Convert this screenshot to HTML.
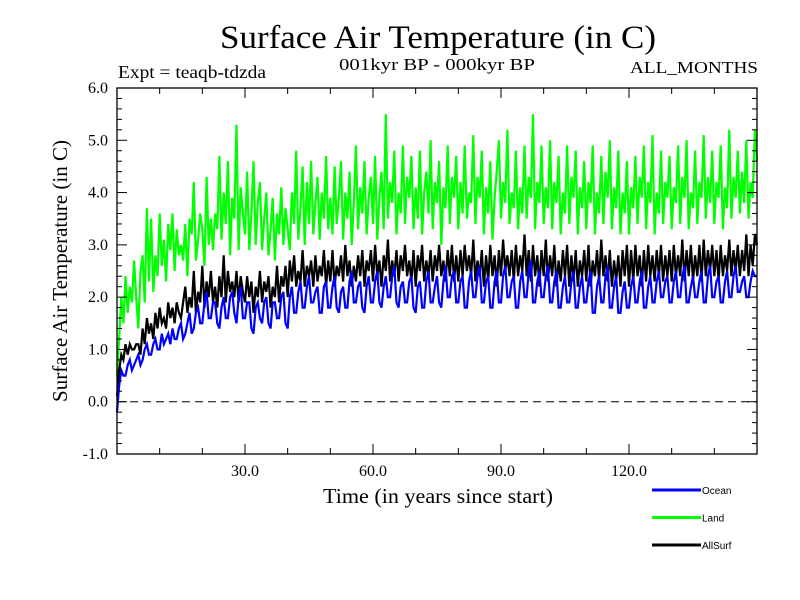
<!DOCTYPE html>
<html><head><meta charset="utf-8"><style>
body{margin:0;background:#fff}
svg{display:block;font-family:"Liberation Serif",serif}
</style></head><body>
<svg id="chart" width="800" height="600" viewBox="0 0 800 600">
<text x="438" y="48" font-size="33" text-anchor="middle" textLength="436" lengthAdjust="spacingAndGlyphs">Surface Air Temperature (in C)</text>
<text x="118" y="78" font-size="18" textLength="148" lengthAdjust="spacingAndGlyphs">Expt = teaqb-tdzda</text>
<text x="437" y="70" font-size="17" text-anchor="middle" textLength="196" lengthAdjust="spacingAndGlyphs">001kyr BP - 000kyr BP</text>
<text x="758" y="73" font-size="17" text-anchor="end" textLength="128" lengthAdjust="spacingAndGlyphs">ALL_MONTHS</text>
<text transform="translate(67,271) rotate(-90)" font-size="21" text-anchor="middle" textLength="262" lengthAdjust="spacingAndGlyphs">Surface Air Temperature (in C)</text>
<text x="438" y="503" font-size="21" text-anchor="middle" textLength="230" lengthAdjust="spacingAndGlyphs">Time (in years since start)</text>
<g id="plot"></g>
</svg>
<script>
const startYear = 0;
const yearStep = 0.5;
const landValues = [0.5,1.2,2.0,1.5,2.4,1.7,2.2,1.9,2.7,2.0,1.4,2.5,2.8,1.9,3.7,2.3,3.5,2.1,2.8,2.4,
3.6,2.6,3.1,2.3,3.4,2.9,3.6,2.5,3.3,2.8,3.0,2.7,3.4,2.4,3.5,3.2,4.2,2.7,3.1,3.6,
3.3,2.6,4.3,3.0,3.5,2.9,3.6,3.3,4.7,3.1,4.0,3.4,4.6,2.8,3.9,3.5,5.3,2.9,4.1,3.6,
3.2,4.4,2.9,3.6,4.6,3.0,3.8,4.2,2.9,3.5,4.0,2.8,3.3,3.9,2.7,3.6,3.2,4.1,3.0,3.7,
3.3,2.9,4.0,3.4,4.8,3.1,3.7,4.5,3.0,4.2,3.4,4.6,3.2,3.8,4.3,3.1,4.0,3.5,4.7,3.3,
3.9,3.2,4.5,3.4,3.9,4.6,3.1,4.0,3.5,4.4,3.0,3.8,4.9,3.3,4.1,3.6,4.6,3.2,3.9,4.3,
3.4,4.7,3.1,3.9,4.4,3.3,5.5,3.5,4.2,3.8,4.8,3.2,4.0,3.6,4.9,3.4,4.3,3.9,4.7,3.3,
4.1,3.5,4.8,3.2,4.0,4.4,3.6,5.0,3.3,4.2,3.8,4.6,3.0,4.1,3.7,4.9,3.4,4.3,3.9,4.7,
3.3,4.2,3.6,4.9,3.5,4.0,3.8,5.1,3.4,4.3,3.9,4.8,3.2,4.1,3.6,4.6,3.1,3.9,4.4,5.0,
3.5,4.2,3.8,5.2,3.4,4.0,3.7,4.8,3.3,4.1,3.6,4.9,3.5,4.3,3.9,5.5,3.3,4.2,3.8,4.9,
3.4,4.1,3.7,5.0,3.3,4.2,3.8,4.7,3.2,4.0,3.6,4.9,3.4,4.3,3.9,4.8,3.2,4.1,3.7,4.6,
3.3,4.2,3.8,4.9,3.2,4.0,3.6,4.7,3.4,4.4,3.9,5.0,3.3,4.1,3.7,4.8,3.2,4.0,3.6,4.6,
3.2,4.1,3.7,4.7,3.4,4.3,3.9,4.9,3.3,4.2,3.8,5.1,3.2,4.0,3.6,4.8,3.4,4.2,3.9,4.7,
3.3,4.1,3.8,4.9,3.4,4.3,3.9,5.0,3.3,4.0,3.7,4.8,3.4,4.2,3.9,5.1,3.5,4.3,3.8,4.8,
3.4,4.2,3.9,4.9,3.3,4.1,3.7,5.2,3.5,4.3,3.9,4.8,3.6,4.4,3.8,5.0,3.5,4.2,3.9,5.2,4.6];
const allSurfValues = [0.1,0.6,0.9,0.8,1.1,0.9,1.1,1.0,1.0,1.1,1.1,0.9,1.4,1.1,1.6,1.3,1.5,1.2,1.7,1.4,
1.8,1.5,1.6,1.4,1.9,1.6,1.8,1.5,1.9,1.7,1.6,1.9,2.2,1.7,2.0,1.8,2.5,1.7,2.1,1.9,
2.6,1.8,2.3,2.0,2.5,1.9,2.2,1.8,2.4,2.0,2.8,1.9,2.5,2.1,2.3,2.0,2.5,1.9,2.4,2.1,
1.9,2.4,2.0,2.3,1.7,2.2,2.0,2.5,1.9,2.3,2.1,2.4,1.8,2.2,2.0,2.6,1.9,2.4,2.2,2.6,
2.0,2.7,2.3,2.8,2.2,2.5,2.3,2.9,2.2,2.6,2.4,2.7,2.2,2.8,2.3,2.6,2.4,2.9,2.2,2.7,
2.3,2.9,2.2,2.6,2.4,2.8,2.3,3.0,2.4,2.7,2.2,2.6,2.3,2.8,2.4,2.9,2.2,2.7,2.5,2.9,
2.3,3.0,2.4,2.7,2.2,2.8,2.5,3.1,2.3,2.7,2.4,2.9,2.3,2.8,2.5,3.0,2.4,2.7,2.3,2.9,
2.2,2.8,2.5,3.0,2.3,2.7,2.4,2.9,2.3,2.8,2.5,3.0,2.4,2.7,2.3,2.9,2.4,3.0,2.3,2.8,
2.3,2.9,2.4,3.0,2.5,2.8,2.4,3.1,2.3,2.7,2.4,2.9,2.2,2.8,2.3,3.0,2.4,2.8,2.2,2.9,
2.4,3.1,2.5,2.8,2.4,2.9,2.3,3.0,2.4,2.8,2.5,3.2,2.4,2.9,2.3,3.0,2.4,2.8,2.2,2.9,
2.4,3.1,2.3,2.8,2.4,3.0,2.2,2.7,2.3,2.9,2.4,3.0,2.2,2.8,2.3,2.9,2.2,2.7,2.4,2.9,
2.3,3.0,2.2,2.7,2.4,2.9,2.3,3.1,2.4,2.8,2.3,2.9,2.2,2.7,2.3,2.8,2.2,2.9,2.4,3.0,
2.2,2.9,2.3,3.0,2.4,2.8,2.2,2.9,2.3,3.0,2.4,2.8,2.3,2.9,2.4,3.0,2.3,2.8,2.4,2.9,
2.3,3.0,2.4,2.8,2.4,3.1,2.3,2.9,2.4,3.0,2.3,2.8,2.4,3.0,2.3,3.1,2.4,2.9,2.5,3.0,
2.4,2.9,2.3,3.0,2.4,2.8,2.5,3.1,2.4,2.9,2.5,3.0,2.4,2.9,2.5,3.2,2.4,3.0,2.6,3.2,3.0];
const oceanValues = [-0.2,0.3,0.6,0.5,0.5,0.7,0.8,0.6,0.7,0.8,0.9,0.7,0.8,1.0,1.1,0.9,0.9,1.1,1.2,1.0,
1.0,1.3,1.1,1.2,1.3,1.1,1.4,1.2,1.2,1.4,1.5,1.2,1.3,1.5,1.7,1.3,1.4,1.7,1.8,1.5,
1.5,1.9,2.1,1.6,1.6,1.9,1.9,1.5,1.4,1.8,2.0,1.6,1.6,2.0,2.1,1.7,1.5,2.0,2.2,1.6,
1.6,1.9,1.9,1.4,1.3,1.8,1.9,1.6,1.5,1.9,2.0,1.5,1.4,1.9,1.9,1.6,1.6,2.0,2.1,1.5,
1.4,2.0,2.2,1.7,1.7,2.1,2.3,1.8,1.8,2.2,2.4,1.9,1.9,2.1,2.2,1.7,1.7,2.2,2.3,1.8,
1.8,2.2,2.4,1.8,1.7,2.1,2.2,1.8,1.8,2.3,2.5,1.9,1.9,2.2,2.3,1.8,1.7,2.2,2.4,1.9,
1.9,2.3,2.5,1.9,1.8,2.2,2.4,2.0,2.0,2.4,2.6,1.9,1.8,2.2,2.3,1.9,1.9,2.3,2.4,1.8,
1.7,2.2,2.3,1.8,1.8,2.3,2.5,1.9,1.9,2.2,2.4,1.9,1.8,2.3,2.6,2.0,2.0,2.4,2.5,1.9,
1.9,2.3,2.4,1.8,1.8,2.3,2.5,2.0,2.0,2.4,2.6,1.9,1.9,2.3,2.4,1.8,1.8,2.3,2.5,1.9,
1.9,2.4,2.6,2.0,2.0,2.3,2.4,1.8,1.8,2.3,2.5,2.0,2.0,2.5,2.7,1.9,1.9,2.3,2.5,2.0,
2.0,2.4,2.6,1.9,1.9,2.3,2.5,1.8,1.8,2.2,2.4,1.9,1.9,2.3,2.5,1.8,1.8,2.2,2.4,1.9,
1.9,2.3,2.5,1.7,1.7,2.2,2.4,1.9,1.9,2.4,2.6,1.8,1.8,2.2,2.4,1.7,1.7,2.1,2.3,1.8,
1.8,2.2,2.4,1.9,1.9,2.3,2.5,1.8,1.8,2.2,2.4,1.9,1.9,2.3,2.5,2.0,2.0,2.3,2.4,1.9,
1.9,2.3,2.5,2.0,2.0,2.4,2.6,1.9,1.9,2.2,2.4,2.0,2.0,2.3,2.5,1.9,1.9,2.4,2.6,2.0,
2.0,2.3,2.4,1.9,1.9,2.3,2.5,2.0,2.0,2.4,2.6,2.1,2.1,2.3,2.4,2.0,2.0,2.3,2.5,2.4,2.4];
const xTickLabels = ["30.0","60.0","90.0","120.0"];
const xTickValues = [30,60,90,120];
const yTickLabels = ["-1.0","0.0","1.0","2.0","3.0","4.0","5.0","6.0"];
const yTickValues = [-1,0,1,2,3,4,5,6];
const seriesNames = ["Ocean","Land","AllSurf"];

const L=117,R=757,T=88,B=454,XMIN=0,XMAX=150,YMIN=-1,YMAX=6;
const xs=v=>L+(v-XMIN)/(XMAX-XMIN)*(R-L);
const ys=v=>B-(v-YMIN)/(YMAX-YMIN)*(B-T);
const NS="http://www.w3.org/2000/svg";
const g=document.getElementById('plot');
function mk(t,a){const e=document.createElementNS(NS,t);for(const k in a)e.setAttribute(k,a[k]);g.appendChild(e);return e;}
function series(vals,color,name){
  const pts=vals.map((v,i)=>xs(startYear+i*yearStep).toFixed(1)+','+ys(v).toFixed(1)).join(' ');
  const p=mk('polyline',{points:pts,fill:'none',stroke:color,'stroke-width':2.2,'stroke-linejoin':'miter'});
  
  
}
series(landValues,'#00ff00','land-series');
series(allSurfValues,'#000000','allsurf-series');
series(oceanValues,'#0000ff','ocean-series');
const zl=mk('line',{x1:L,x2:R,y1:ys(0),y2:ys(0),stroke:'#000','stroke-width':1,'stroke-dasharray':'8,5'});


const fr=mk('rect',{x:L,y:T,width:R-L,height:B-T,fill:'none',stroke:'#000','stroke-width':1.3});


for(let v=10;v<XMAX;v+=10){
  const len=(v%30===0)?10:6;
  const t1=mk('line',{x1:xs(v),x2:xs(v),y1:B,y2:B-len,stroke:'#000'});
  
  
  const t2=mk('line',{x1:xs(v),x2:xs(v),y1:T,y2:T+len,stroke:'#000'});
  
  
}
for(let k=0;k<=35;k++){
  const v=YMIN+k*0.2;const len=(k%5===0)?10:5;
  const t1=mk('line',{x1:L,x2:L+len,y1:ys(v),y2:ys(v),stroke:'#000'});
  
  
  const t2=mk('line',{x1:R,x2:R-len,y1:ys(v),y2:ys(v),stroke:'#000'});
  
  
}
xTickLabels.forEach((s,i)=>{
  const t=mk('text',{x:xs(xTickValues[i]),y:476,'font-size':16,'text-anchor':'middle'});
  t.textContent=s;
  
  
});
yTickLabels.forEach((s,i)=>{
  const t=mk('text',{x:108,y:ys(yTickValues[i])+5,'font-size':16,'text-anchor':'end'});
  t.textContent=s;
  
  
});
const legColors=['#0000ff','#00ff00','#000000'];
seriesNames.forEach((s,i)=>{
  const y=490+i*27.5;
  const l=mk('line',{x1:652,x2:701,y1:y,y2:y,stroke:legColors[i],'stroke-width':3});
  
  
  const t=mk('text',{x:702,y:y+4,'font-size':10,'font-family':'Liberation Sans, sans-serif'});
  t.textContent=s;
  
  
});
</script>
</body></html>
